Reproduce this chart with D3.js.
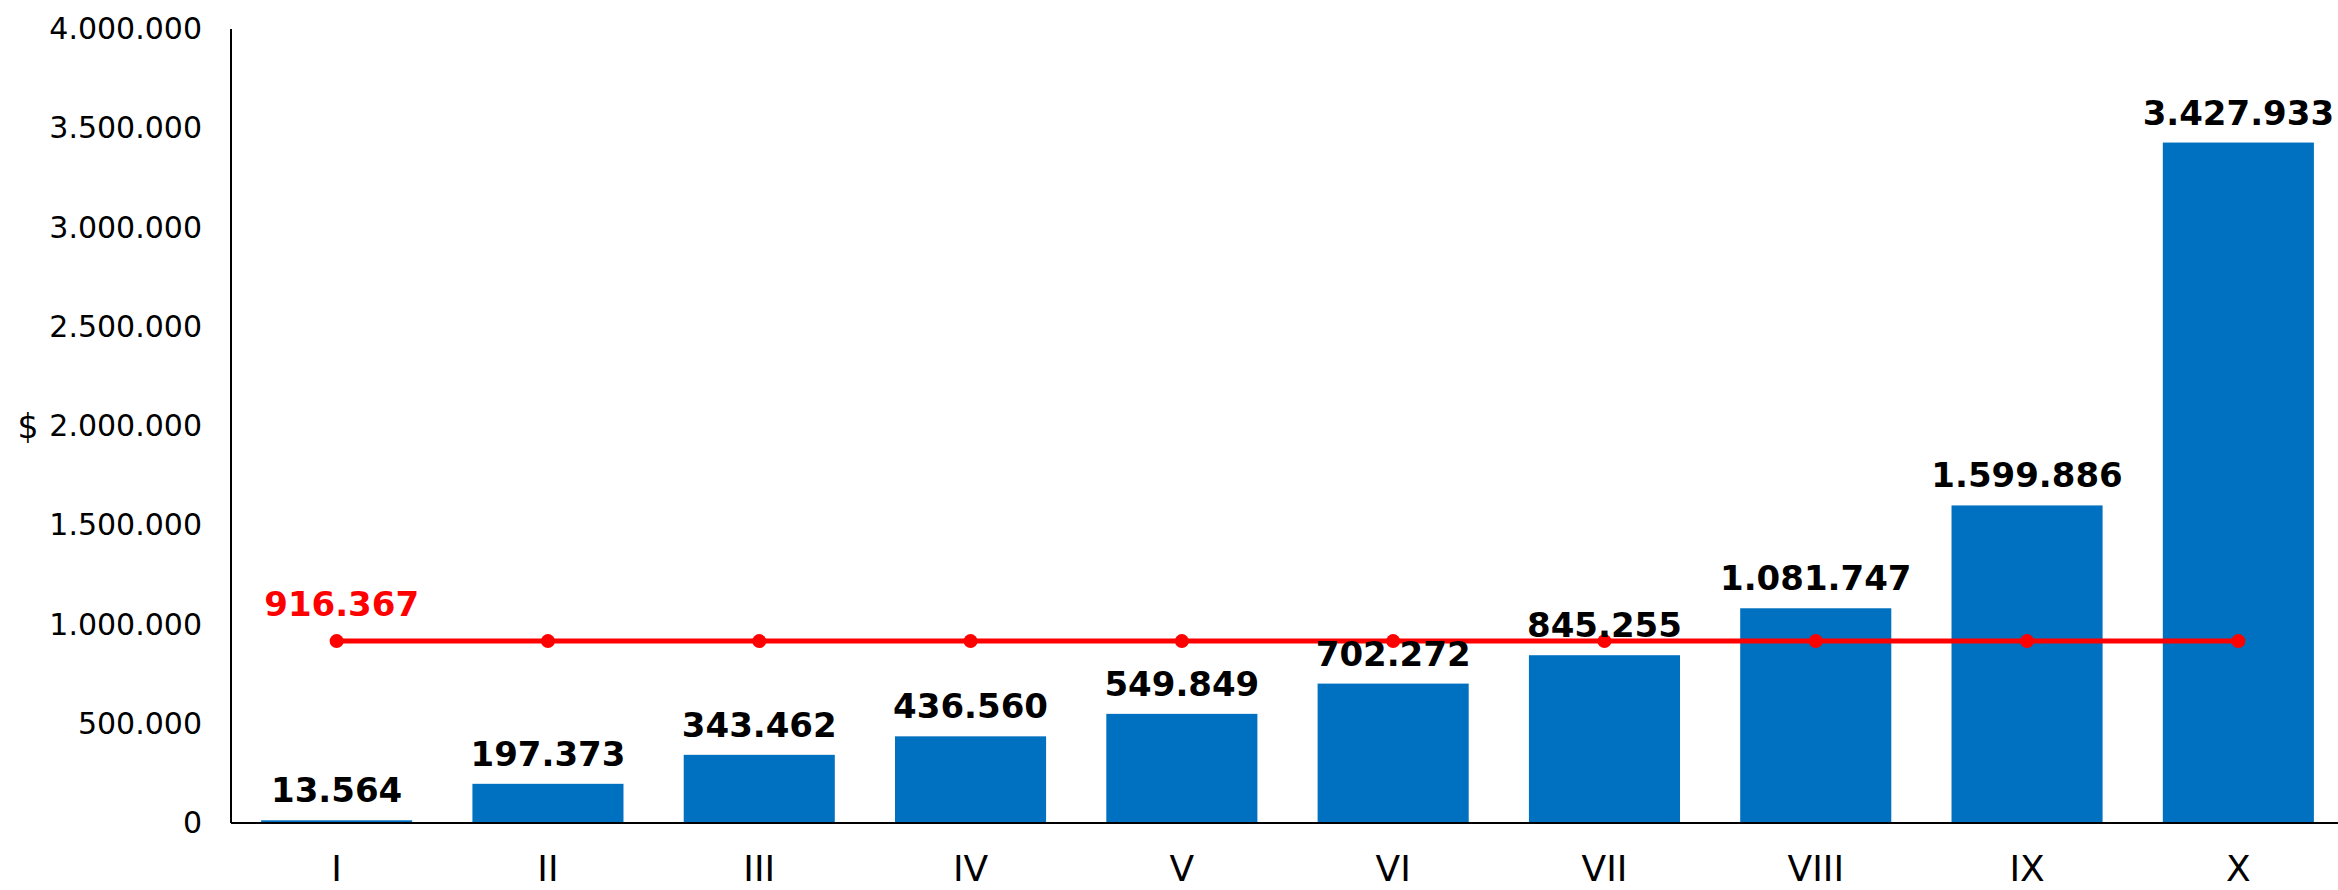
<!DOCTYPE html>
<html>
<head>
<meta charset="utf-8">
<script src="https://cdn.jsdelivr.net/npm/d3@7"></script>
<style>
	html, body { margin: 0; padding: 0; background: #fff; }
	svg { display: block; font-family: "DejaVu Sans", Verdana, sans-serif; }
</style>
</head>
<body>
<div id="area"></div>
<script>

// chart data
var categories = ['I', 'II', 'III', 'IV', 'V', 'VI', 'VII', 'VIII', 'IX', 'X'];
var bar_values = [13564, 197373, 343462, 436560, 549849, 702272, 845255, 1081747, 1599886, 3427933];
var mean_values = [916367, 916367, 916367, 916367, 916367, 916367, 916367, 916367, 916367, 916367];
var y_ticks = [0, 500000, 1000000, 1500000, 2000000, 2500000, 3000000, 3500000, 4000000];

var width = 2338;
var height = 890;

var bar_color = '#0070C0';
var line_color = '#FF0000';

// dotted thousands, like the original
var locale = d3.formatLocale({ decimal: ',', thousands: '.', grouping: [3], currency: ['$', ''] });
var fmt = locale.format(',d');

var svg = d3.select('#area').append('svg')
	.attr('width', width)
	.attr('height', height);

var x = d3.scaleBand()
	.domain(categories)
	.range([231, 2344])
	.paddingInner(0.285)
	.paddingOuter(0.1425);

var y = d3.scaleLinear()
	.domain([0, 4000000])
	.range([823, 29]);

//Y axis: labels only, plus a plain line
var y_axis = svg.append('g')
	.attr('transform', 'translate(231,0)')
	.call(d3.axisLeft(y).tickValues(y_ticks).tickFormat(fmt).tickSize(0).tickPadding(29));
y_axis.select('.domain').remove();
y_axis.selectAll('text')
	.attr('font-size', 30)
	.attr('fill', '#000')
	.attr('font-family', '"DejaVu Sans", Verdana, sans-serif');

svg.append('line')
	.attr('x1', 231).attr('x2', 231)
	.attr('y1', y(4000000)).attr('y2', y(0))
	.attr('stroke', '#000').attr('stroke-width', 2);

//Currency title
svg.append('text')
	.attr('x', 28)
	.attr('y', y(2000000))
	.attr('dy', '0.35em')
	.attr('text-anchor', 'middle')
	.attr('font-size', 33)
	.attr('fill', '#000')
	.text('$');

//Bars
svg.append('g').selectAll('rect')
	.data(bar_values)
	.enter().append('rect')
	.attr('x', function(d, i){ return x(categories[i]); })
	.attr('y', function(d){ return y(d); })
	.attr('width', x.bandwidth())
	.attr('height', function(d){ return y(0) - y(d); })
	.attr('fill', bar_color);

//X axis
var x_axis = svg.append('g')
	.attr('transform', 'translate(0,' + y(0) + ')')
	.call(d3.axisBottom(x).tickSize(0).tickPadding(32));
x_axis.select('.domain').remove();
x_axis.selectAll('text')
	.attr('font-size', 36)
	.attr('fill', '#000')
	.attr('font-family', '"DejaVu Sans", Verdana, sans-serif');

svg.append('line')
	.attr('x1', 231).attr('x2', width)
	.attr('y1', y(0)).attr('y2', y(0))
	.attr('stroke', '#000').attr('stroke-width', 2);

//Average line with markers
var cx = function(i){ return x(categories[i]) + x.bandwidth() / 2; };

var line = d3.line()
	.x(function(d, i){ return cx(i); })
	.y(function(d){ return y(d); });

svg.append('path')
	.datum(mean_values)
	.attr('d', line)
	.attr('fill', 'none')
	.attr('stroke', line_color)
	.attr('stroke-width', 5);

svg.append('g').selectAll('circle')
	.data(mean_values)
	.enter().append('circle')
	.attr('cx', function(d, i){ return cx(i); })
	.attr('cy', function(d){ return y(d); })
	.attr('r', 7)
	.attr('fill', line_color);

//Bar value labels
svg.append('g').selectAll('text')
	.data(bar_values)
	.enter().append('text')
	.attr('x', function(d, i){ return cx(i); })
	.attr('y', function(d){ return y(d) - 18; })
	.attr('text-anchor', 'middle')
	.attr('font-size', 34)
	.attr('font-weight', 'bold')
	.attr('fill', '#000')
	.text(function(d){ return fmt(d); });

//Average label, first point only
svg.append('text')
	.attr('x', cx(0) + 5)
	.attr('y', y(mean_values[0]) - 25)
	.attr('text-anchor', 'middle')
	.attr('font-size', 34)
	.attr('font-weight', 'bold')
	.attr('fill', line_color)
	.text(fmt(mean_values[0]));

</script>
</body>
</html>
